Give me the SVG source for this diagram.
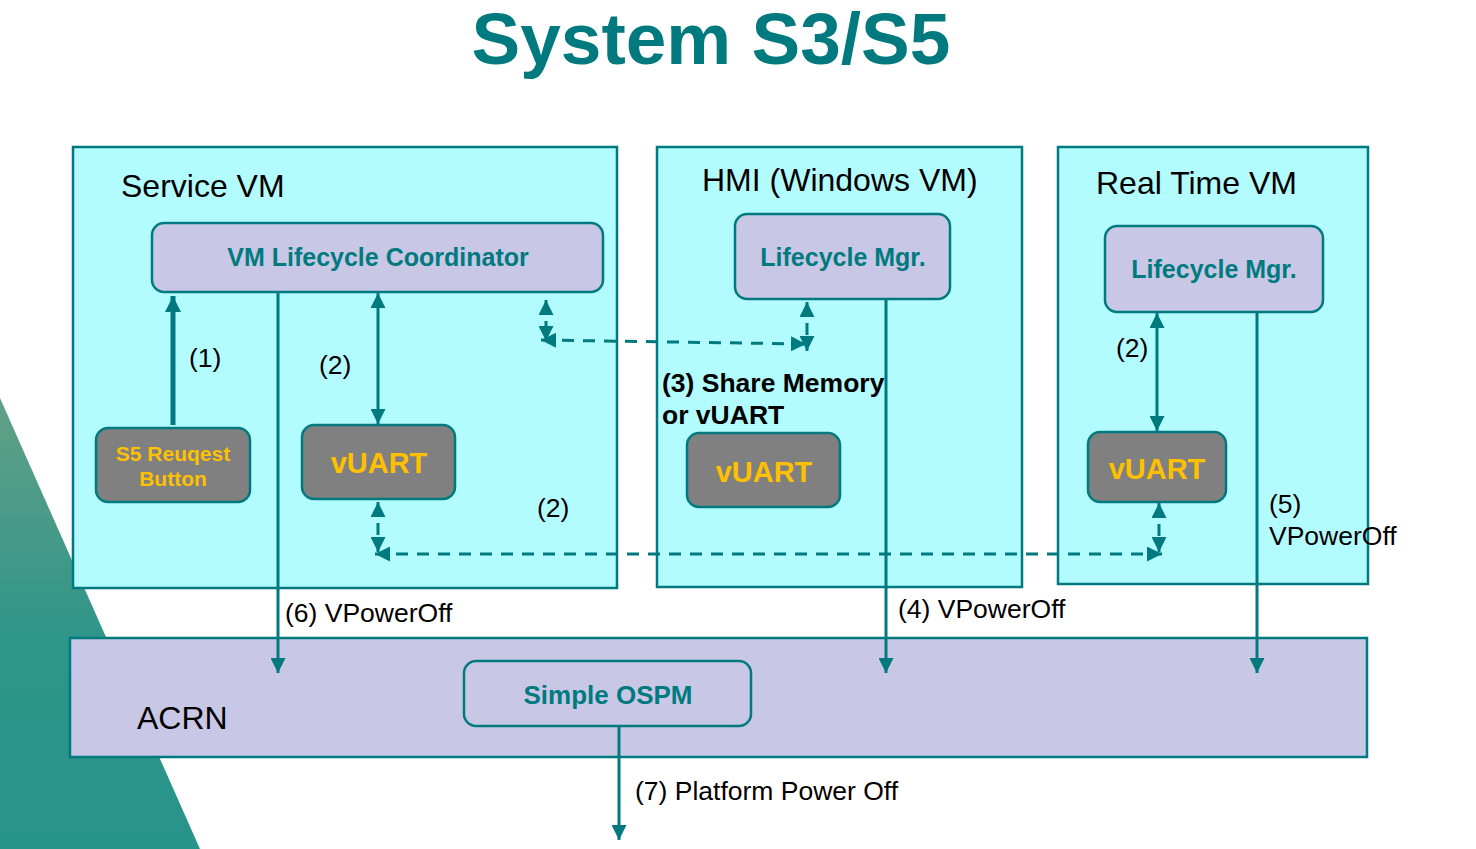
<svg xmlns="http://www.w3.org/2000/svg" width="1476" height="849" viewBox="0 0 1476 849">
<defs>
<linearGradient id="tri" x1="0" y1="0" x2="0" y2="1">
<stop offset="0" stop-color="#62A086"/>
<stop offset="0.55" stop-color="#2E958A"/>
<stop offset="1" stop-color="#27948A"/>
</linearGradient>
<marker id="ah" viewBox="0 0 10 10" refX="10" refY="5" markerWidth="15" markerHeight="15" markerUnits="userSpaceOnUse" orient="auto-start-reverse">
<path d="M0,0 L10,5 L0,10 z" fill="#007A7E"/>
</marker>
<marker id="ahb" viewBox="0 0 10 10" refX="10" refY="5" markerWidth="16" markerHeight="16" markerUnits="userSpaceOnUse" orient="auto-start-reverse">
<path d="M0,0 L10,5 L0,10 z" fill="#007A7E"/>
</marker>
</defs>
<style>
.vm{fill:#B2FCFF;stroke:#007A7E;stroke-width:2.5}
.lc{fill:#C8C8E6;stroke:#007A7E;stroke-width:2.5}
.gr{fill:#808080;stroke:#007A7E;stroke-width:2.5}
.ttl{font-family:"Liberation Sans",Arial,sans-serif;font-size:32px;fill:#000}
.lbl{font-family:"Liberation Sans",Arial,sans-serif;font-size:26.5px;fill:#000}
.bt{font-family:"Liberation Sans",Arial,sans-serif;font-weight:bold;fill:#007A7E;text-anchor:middle}
.yt{font-family:"Liberation Sans",Arial,sans-serif;font-weight:bold;fill:#FFC000;text-anchor:middle}
.ln{fill:none;stroke:#007A7E;stroke-width:3}
.dl{fill:none;stroke:#007A7E;stroke-width:3;stroke-dasharray:12 9}
</style>
<rect x="0" y="0" width="1476" height="849" fill="#FFFFFF"/>
<polygon points="0,398 200,849 0,849" fill="url(#tri)"/>
<text x="711" y="64" text-anchor="middle" font-family="'Liberation Sans',Arial,sans-serif" font-weight="bold" font-size="73" fill="#007A7E">System S3/S5</text>

<g id="service-vm">
<rect class="vm" x="73" y="147" width="544" height="441"/>
<text class="ttl" x="121" y="197">Service VM</text>
</g>
<g id="hmi-vm">
<rect class="vm" x="657" y="147" width="365" height="440"/>
<text class="ttl" x="702" y="191">HMI (Windows VM)</text>
</g>
<g id="rt-vm">
<rect class="vm" x="1058" y="147" width="310" height="437"/>
<text class="ttl" x="1096" y="194">Real Time VM</text>
</g>
<g id="acrn">
<rect class="lc" x="70" y="638" width="1297" height="119"/>
<text class="ttl" x="137" y="729">ACRN</text>
</g>
<g id="vm-lifecycle-coordinator">
<rect class="lc" x="152" y="223" width="451" height="69" rx="12"/>
<text class="bt" x="378" y="266" font-size="25">VM Lifecycle Coordinator</text>
</g>
<g id="hmi-lifecycle-mgr">
<rect class="lc" x="735" y="214" width="215" height="85" rx="12"/>
<text class="bt" x="843" y="266" font-size="25">Lifecycle Mgr.</text>
</g>
<g id="rt-lifecycle-mgr">
<rect class="lc" x="1105" y="226" width="218" height="86" rx="12"/>
<text class="bt" x="1214" y="278" font-size="25">Lifecycle Mgr.</text>
</g>
<g id="s5-button">
<rect class="gr" x="96" y="428" width="154" height="74" rx="12"/>
<text class="yt" x="173" y="461" font-size="21">S5 Reuqest</text>
<text class="yt" x="173" y="486" font-size="21">Button</text>
</g>
<g id="svm-vuart">
<rect class="gr" x="302" y="425" width="153" height="74" rx="12"/>
<text class="yt" x="379" y="473" font-size="29">vUART</text>
</g>
<g id="hmi-vuart">
<rect class="gr" x="687" y="433" width="153" height="74" rx="12"/>
<text class="yt" x="764" y="482" font-size="29">vUART</text>
</g>
<g id="rt-vuart">
<rect class="gr" x="1088" y="432" width="138" height="70" rx="12"/>
<text class="yt" x="1157" y="479" font-size="29">vUART</text>
</g>
<g id="simple-ospm">
<rect class="lc" x="464" y="661" width="287" height="65" rx="12"/>
<text class="bt" x="608" y="704" font-size="26">Simple OSPM</text>
</g>

<g id="connectors">
<line x1="173" y1="425" x2="173" y2="296" fill="none" stroke="#007A7E" stroke-width="5" marker-end="url(#ahb)"/>
<line class="ln" x1="278" y1="292" x2="278" y2="673" marker-end="url(#ah)"/>
<line class="ln" x1="378" y1="293" x2="378" y2="424" marker-start="url(#ah)" marker-end="url(#ah)"/>
<line class="ln" x1="886" y1="299" x2="886" y2="673" marker-end="url(#ah)"/>
<line class="ln" x1="1257" y1="312" x2="1257" y2="673" marker-end="url(#ah)"/>
<line class="ln" x1="1157" y1="313" x2="1157" y2="431" marker-start="url(#ah)" marker-end="url(#ah)"/>
<line class="ln" x1="619" y1="727" x2="619" y2="840" marker-end="url(#ah)"/>
<line class="dl" x1="546" y1="300" x2="546" y2="341" marker-start="url(#ah)" marker-end="url(#ah)"/>
<line class="dl" x1="541" y1="340" x2="806" y2="344" marker-start="url(#ah)" marker-end="url(#ah)"/>
<line class="dl" x1="807" y1="302" x2="807" y2="351" marker-start="url(#ah)" marker-end="url(#ah)"/>
<line class="dl" x1="378" y1="502" x2="378" y2="552" marker-start="url(#ah)" marker-end="url(#ah)"/>
<line class="dl" x1="375" y1="554" x2="1162" y2="554" marker-start="url(#ah)" marker-end="url(#ah)"/>
<line class="dl" x1="1159" y1="503" x2="1159" y2="552" marker-start="url(#ah)" marker-end="url(#ah)"/>
</g>

<g id="labels">
<text class="lbl" x="189" y="367">(1)</text>
<text class="lbl" x="319" y="374">(2)</text>
<text class="lbl" x="537" y="517">(2)</text>
<text class="lbl" x="1116" y="357">(2)</text>
<text class="lbl" x="662" y="392" font-weight="bold" font-size="26">(3) Share Memory</text>
<text class="lbl" x="662" y="424" font-weight="bold" font-size="26">or vUART</text>
<text class="lbl" x="1269" y="513">(5)</text>
<text class="lbl" x="1269" y="545">VPowerOff</text>
<text class="lbl" x="285" y="622">(6) VPowerOff</text>
<text class="lbl" x="898" y="618">(4) VPowerOff</text>
<text class="lbl" x="635" y="800">(7) Platform Power Off</text>
</g>
</svg>
